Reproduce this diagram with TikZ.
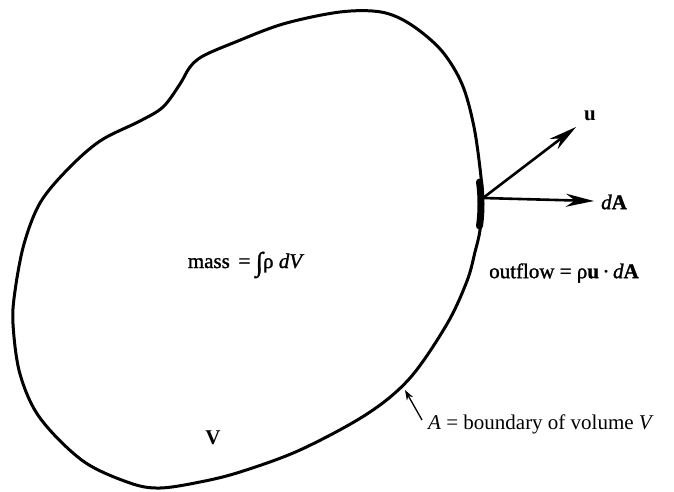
\documentclass[tikz,border=0pt]{standalone}
\usepackage{fontspec}
\setmainfont{Liberation Serif}
\newfontfamily\heavyserif[FakeBold=1.3]{Liberation Serif}
\usetikzlibrary{arrows.meta}
\tikzset{
  lbl/.style={inner sep=0pt, font=\fontsize{21}{25}\selectfont},
  heavylbl/.style={inner sep=0pt, font=\fontsize{21}{25}\selectfont\heavyserif},
  bigarrow/.style={line width=2.6pt, -{Stealth[length=28pt,width=13pt,inset=9pt]}},
  smallarrow/.style={line width=1.3pt, -{Stealth[length=10pt,width=7pt,inset=3pt]}},
  boundary/.style={line width=3pt, line join=round}
}
\begin{document}
\begin{tikzpicture}[x=1pt,y=-1pt]
\useasboundingbox (0,0) rectangle (674,491);
% boundary
\draw[boundary] plot[smooth cycle, tension=0.55] coordinates {
 (190,67) (203,56) (233,43) (283,24) (340,12) (381,12) (410,24) (441,50)
 (462,84) (474,127) (481,177) (482,200) (480,230) (475,252) (467,281)
 (447,324) (410,378) (367,414) (300,450) (240,472) (200,482) (160,488)
 (130,483) (83,461) (40,418) (20,374) (13,324) (15,291) (24,244)
 (40,203) (67,170) (100,141) (140,121) (163,107) (180,84)};
% thick segment of the surface element
\draw[line width=7pt, line cap=round] (479.5,182) .. controls (481.5,196) and (481.5,212) .. (479.5,226);
% arrows
\coordinate (o) at (483,198);
\node[heavylbl, font=\fontsize{21}{25}\selectfont\bfseries] (u) at (590,116) {u};
\node[heavylbl] (dA) at (614,202) {\textit{d}\textbf{A}};
\coordinate (ut) at (576,127);
\coordinate (dt) at (594,201);
\draw[bigarrow] (o) -- (ut);
\draw[bigarrow] (o) -- (dt);
% labels
\node[heavylbl, anchor=west] (outflow) at (489,273) {outflow = ρ\textbf{u}\,·\,\textit{d}\textbf{A}};
\node[heavylbl] (mass) at (246,265) {mass \,= \raisebox{-3pt}{\fontsize{27}{27}\selectfont ∫}ρ \textit{dV}};
\node[lbl, font=\fontsize{21}{25}\selectfont\bfseries] (V) at (213,438) {V};
\node[lbl, anchor=west] (bnd) at (428,424) {\textit{A} = boundary of volume \textit{V}};
\coordinate (bt) at (405,390);
\draw[smallarrow] (bnd.west) ++(-6,-4) -- (bt);
\end{tikzpicture}
\end{document}
